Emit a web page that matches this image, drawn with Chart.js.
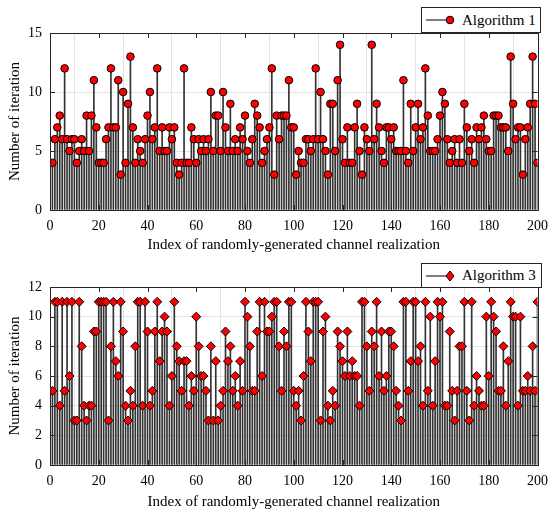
<!DOCTYPE html>
<html><head><meta charset="utf-8">
<script src="https://cdn.jsdelivr.net/npm/chart.js@4.4.1/dist/chart.umd.min.js"></script>
<style>
html,body{margin:0;padding:0;background:#fff;}
body{width:556px;height:512px;position:relative;overflow:hidden;font-family:"Liberation Serif",serif;}
.cv{position:absolute;left:0;width:556px;height:256px;}
.leg{position:absolute;background:#fff;border:1px solid #262626;box-sizing:border-box;font-size:15px;font-family:"Liberation Serif",serif;color:#000;display:flex;align-items:center;white-space:nowrap;}
.leg svg{margin-left:3px;margin-right:7px;}
</style></head><body>
<div class="cv" style="top:0"><canvas id="c1" width="556" height="256"></canvas></div>
<div class="cv" style="top:256px"><canvas id="c2" width="556" height="256"></canvas></div>
<div class="leg" style="left:421px;top:7px;width:120px;height:26px;">
<svg width="30" height="14"><line x1="1" y1="7" x2="25" y2="7" stroke="#000" stroke-width="1"/><circle cx="25" cy="7" r="3.8" fill="#ff0000" stroke="#000" stroke-width="1"/></svg><span>Algorithm 1</span></div>
<div class="leg" style="left:421px;top:263px;width:121px;height:25px;">
<svg width="30" height="14"><line x1="1" y1="7" x2="25" y2="7" stroke="#000" stroke-width="1"/><polygon points="25,2 29,7 25,12 21,7" fill="#ff0000" stroke="#000" stroke-width="1"/></svg><span>Algorithm 3</span></div>
<script>
// ---- data ----
const algorithm1Iterations = [
4,6,7,8,6,12,6,5,6,6, 4,5,6,5,8,5,8,11,7,4,
4,4,6,7,12,7,7,11,3,10, 4,9,13,7,4,6,5,4,6,8,
10,6,7,12,5,7,5,5,7,6, 7,4,3,4,12,4,4,7,6,4,
6,5,6,5,6,10,5,8,8,5, 10,7,5,9,5,6,5,7,6,8,
5,4,6,9,8,7,4,5,6,7, 12,3,8,6,8,8,8,11,7,7,
3,5,4,4,6,6,5,6,12,6, 10,6,5,3,9,9,5,11,14,6,
4,7,4,4,7,9,5,3,7,6, 5,14,6,9,7,5,4,7,7,6,
7,5,5,5,11,5,4,9,5,7, 9,6,7,12,8,5,5,5,6,8,
10,9,6,4,5,6,4,6,4,9, 7,5,6,4,7,6,7,8,6,5,
5,8,8,8,7,7,7,5,13,9, 6,7,7,3,6,7,9,13,9,4
];
const algorithm3Iterations = [
5,11,11,4,11,5,11,6,11,3, 3,11,8,4,3,4,4,9,9,11,
11,11,11,3,8,11,7,6,11,9, 4,3,5,4,8,11,11,4,11,9,
4,5,9,11,7,9,10,9,4,6, 11,8,7,5,7,7,4,6,5,10,
8,6,6,5,3,8,3,7,3,4, 5,9,7,8,5,6,4,7,5,11,
10,8,5,5,9,11,6,11,9,9, 10,11,11,8,5,9,8,11,11,5,
4,5,3,6,11,9,7,11,11,11, 3,9,10,4,3,5,4,9,8,7,
6,9,6,7,6,6,4,11,11,8, 5,9,8,11,6,9,5,6,9,9,
8,5,4,3,11,11,5,7,11,11, 7,8,4,11,5,10,4,7,11,10,
11,4,4,9,5,3,5,8,8,11, 5,3,11,4,6,5,4,4,10,6,
11,10,9,5,5,8,4,7,11,10, 10,4,10,5,5,6,5,8,5,11
];
const xTickLabels = [0,20,40,60,80,100,120,140,160,180,200];
const yTicksTop = [0,5,10,15];
const yTicksBottom = [0,2,4,6,8,10,12];

const FONT = "'Liberation Serif', 'Times New Roman', serif";

const framePlugin = {
  id: 'frame',
  afterDatasetsDraw(chart) {
    const {ctx, chartArea: a, scales: {x, y}} = chart;
    ctx.save();
    ctx.strokeStyle = '#262626';
    ctx.lineWidth = 1;
    ctx.beginPath();
    x.ticks.forEach(t => {
      const p = Math.round(x.getPixelForValue(t.value)) + 0.5;
      ctx.moveTo(p, a.bottom); ctx.lineTo(p, a.bottom - 5);
      ctx.moveTo(p, a.top); ctx.lineTo(p, a.top + 5);
    });
    y.ticks.forEach(t => {
      const p = Math.round(y.getPixelForValue(t.value)) + 0.5;
      ctx.moveTo(a.left, p); ctx.lineTo(a.left + 5, p);
      ctx.moveTo(a.right, p); ctx.lineTo(a.right - 5, p);
    });
    ctx.stroke();
    ctx.strokeRect(Math.round(a.left) + 0.5, Math.round(a.top) + 0.5,
                   Math.round(a.right - a.left), Math.round(a.bottom - a.top));
    ctx.restore();
  }
};

function makeChart(id, values, yTicks, yMax, pointStyle, radius, padTop, xHeight, titleBottom) {
  const pts = values.map((v, i) => ({x: i + 1, y: v}));
  return new Chart(document.getElementById(id), {
    type: 'bar',
    data: {
      datasets: [
        {
          type: 'line', data: pts, showLine: false, order: 0,
          pointStyle: pointStyle, pointRadius: radius, pointBorderWidth: 1,
          pointBackgroundColor: '#ff0000', pointBorderColor: '#000000'
        },
        {
          type: 'bar', data: pts, order: 1, barThickness: 1,
          backgroundColor: '#333333', borderWidth: 0
        }
      ]
    },
    options: {
      responsive: false, animation: false, devicePixelRatio: 1,
      layout: {padding: {top: padTop, right: 15, left: 4, bottom: 0}},
      plugins: {legend: {display: false}, tooltip: {enabled: false}},
      scales: {
        x: {
          type: 'linear', min: 0, max: 200, offset: false,
          afterBuildTicks: s => { s.ticks = xTickLabels.map(v => ({value: v})); },
          afterFit: s => { s.height = xHeight; },
          grid: {color: '#e3e3e3', drawTicks: false, lineWidth: 1},
          border: {display: false},
          ticks: {font: {family: FONT, size: 14}, color: '#000', padding: 8, maxRotation: 0},
          title: {display: true, text: 'Index of randomly-generated channel realization',
                  font: {family: FONT, size: 15}, color: '#000', padding: {top: 2, bottom: titleBottom}}
        },
        y: {
          type: 'linear', min: 0, max: yMax,
          afterBuildTicks: s => { s.ticks = yTicks.map(v => ({value: v})); },
          afterFit: s => { s.width = 46; },
          grid: {color: '#e3e3e3', drawTicks: false, lineWidth: 1},
          border: {display: false},
          ticks: {font: {family: FONT, size: 14}, color: '#000', padding: 8, autoSkip: false},
          title: {display: true, text: 'Number of iteration',
                  font: {family: FONT, size: 15}, color: '#000', padding: {top: 2, bottom: 4}}
        }
      }
    },
    plugins: [framePlugin]
  });
}

makeChart('c1', algorithm1Iterations, yTicksTop, 15, 'circle', 3.8, 33, 46, 2);
makeChart('c2', algorithm3Iterations, yTicksBottom, 12, 'rectRot', 4.5, 31, 47, 1);
</script>
</body></html>
